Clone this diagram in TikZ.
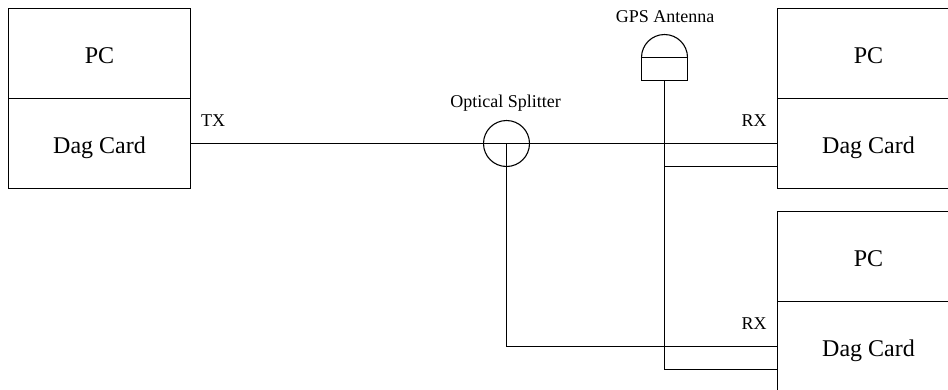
\documentclass[tikz,border=0pt]{standalone}
\usepackage{fontspec}
\setmainfont{Liberation Serif}
\usetikzlibrary{positioning}

\begin{document}
\begin{tikzpicture}[
  x=1pt, y=-1pt,
  line width=1.1pt,
  box/.style={rectangle, draw, outer sep=0pt, minimum width=182pt, minimum height=90pt,
              text height=19pt, text depth=0pt, inner sep=0pt, font=\fontsize{24}{28}\selectfont},
  tag/.style={anchor=base, font=\fontsize{18}{22}\selectfont, inner sep=0pt},
  fibre/.style={line width=1.5pt}
]
\clip (0,0) rectangle (948,389);

\node[box] (dagA) at (99.5,143.5)  {Dag Card};
\node[box] (dagB) at (868.5,143.5) {Dag Card};
\node[box] (dagC) at (868.5,346.5) {Dag Card};
\node[box, above=0pt of dagA] (pcA) {PC};
\node[box, above=0pt of dagB] (pcB) {PC};
\node[box, above=0pt of dagC] (pcC) {PC};

\node[circle, draw, minimum size=46pt, inner sep=0pt, outer sep=0pt] (splitter) at (506.5,143.5) {};
\node[rectangle, draw, minimum width=46pt, minimum height=23pt, inner sep=0pt, outer sep=0pt] (antenna) at (664.5,69) {};
\draw (antenna.north west) arc[start angle=180, end angle=0, radius=23pt];

\coordinate[below=23pt of dagB.west] (tapB);
\coordinate[below=23pt of dagC.west] (tapC);

\draw[fibre] (dagA.east) -- (dagB.west);
\draw[fibre] (splitter.center) |- (dagC.west);
\draw (antenna.south) |- (tapC);
\draw (antenna.south |- tapB) -- (tapB);

\node[tag] (tx) at (213,126) {TX};
\node[tag] (rxB) at (754,126) {RX};
\node[tag] (rxC) at (754,329) {RX};
\node[tag] (splitterlabel) at (505.5,107) {Optical Splitter};
\node[tag] (antennalabel) at (665,22) {GPS Antenna};

\end{tikzpicture}
\end{document}
